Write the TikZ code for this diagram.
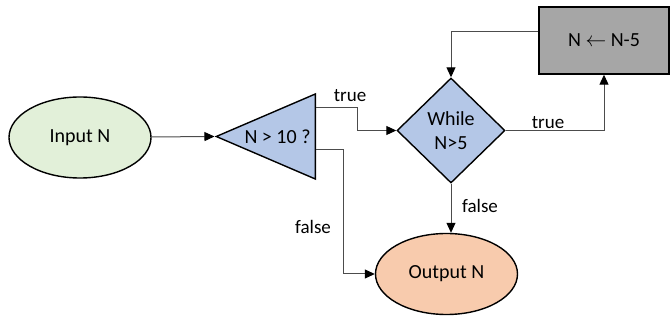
\documentclass[tikz,border=0pt]{standalone}
\usepackage{fontspec}
\setmainfont{Carlito}
\usetikzlibrary{shapes.geometric,arrows.meta,positioning}
\definecolor{ingreen}{HTML}{E2F0D9}
\definecolor{testblue}{HTML}{B4C7E7}
\definecolor{outorange}{HTML}{F8CBAD}
\definecolor{stepgray}{HTML}{A6A6A6}
\tikzstyle{terminal} = [draw,line width=1.4pt,ellipse,minimum width=142pt,minimum height=81pt,inner sep=0,font=\fontsize{20}{23}\selectfont]
\tikzstyle{branch} = [draw,line width=1.4pt,isosceles triangle,isosceles triangle stretches,shape border rotate=180,fill=testblue,inner sep=0,font=\fontsize{20}{23}\selectfont]
\tikzstyle{loopcond} = [draw,line width=1.4pt,diamond,fill=testblue,inner sep=0,minimum width=108pt,minimum height=105pt,align=center,font=\fontsize{20}{24}\selectfont]
\tikzstyle{update} = [draw,line width=1.4pt,rectangle,fill=stepgray,inner sep=0,minimum width=130pt,minimum height=67pt,font=\fontsize{20}{23}\selectfont]
\tikzstyle{flow} = [-{Triangle[length=10pt,width=9pt,color=black]},line width=1pt,black!70]
\tikzstyle{lbl} = [font=\fontsize{19}{22}\selectfont]
\def \tu {28.5pt}
\def \fu {13.5pt}

\begin{document}
\begin{tikzpicture}[x=1pt,y=-1pt]
  \useasboundingbox (0,0) rectangle (670,320);
  \node[terminal,fill=ingreen] (in) at (80,137.5) {Input N};
  \node[branch,minimum width=85pt,minimum height=99pt,anchor=lower side] (test) at (316,136.5) {N > 10 ?};
  \node[loopcond] (loop) at (451,130.5) {While\\N>5};
  \node[update] (calc) at (604,40.5) {N $\leftarrow$ N-5};
  \node[terminal,fill=outorange] (out) at (446.5,274) {Output N};
  % connectors
  \draw[flow] (in) -- (test.apex);
  \draw[flow] ([yshift=\tu]test.lower side) -- ++(41,0) |- (loop.west);
  \draw[flow] ([yshift=-\fu]test.lower side) -- ++(27,0) |- (out.west);
  \draw[flow] (loop.south) -- (loop.south |- out.north);
  \draw[flow] (loop.east) -| (calc.south);
  \draw[flow] ([yshift=8.5pt]calc.west) -| (loop.north);
  % labels
  \node[lbl] (ltrue1) at (350,96) {true};
  \node[lbl] (ltrue2) at (548,123) {true};
  \node[lbl] (lfalse1) at (313,227) {false};
  \node[lbl] (lfalse2) at (480,206) {false};
\end{tikzpicture}
\end{document}
